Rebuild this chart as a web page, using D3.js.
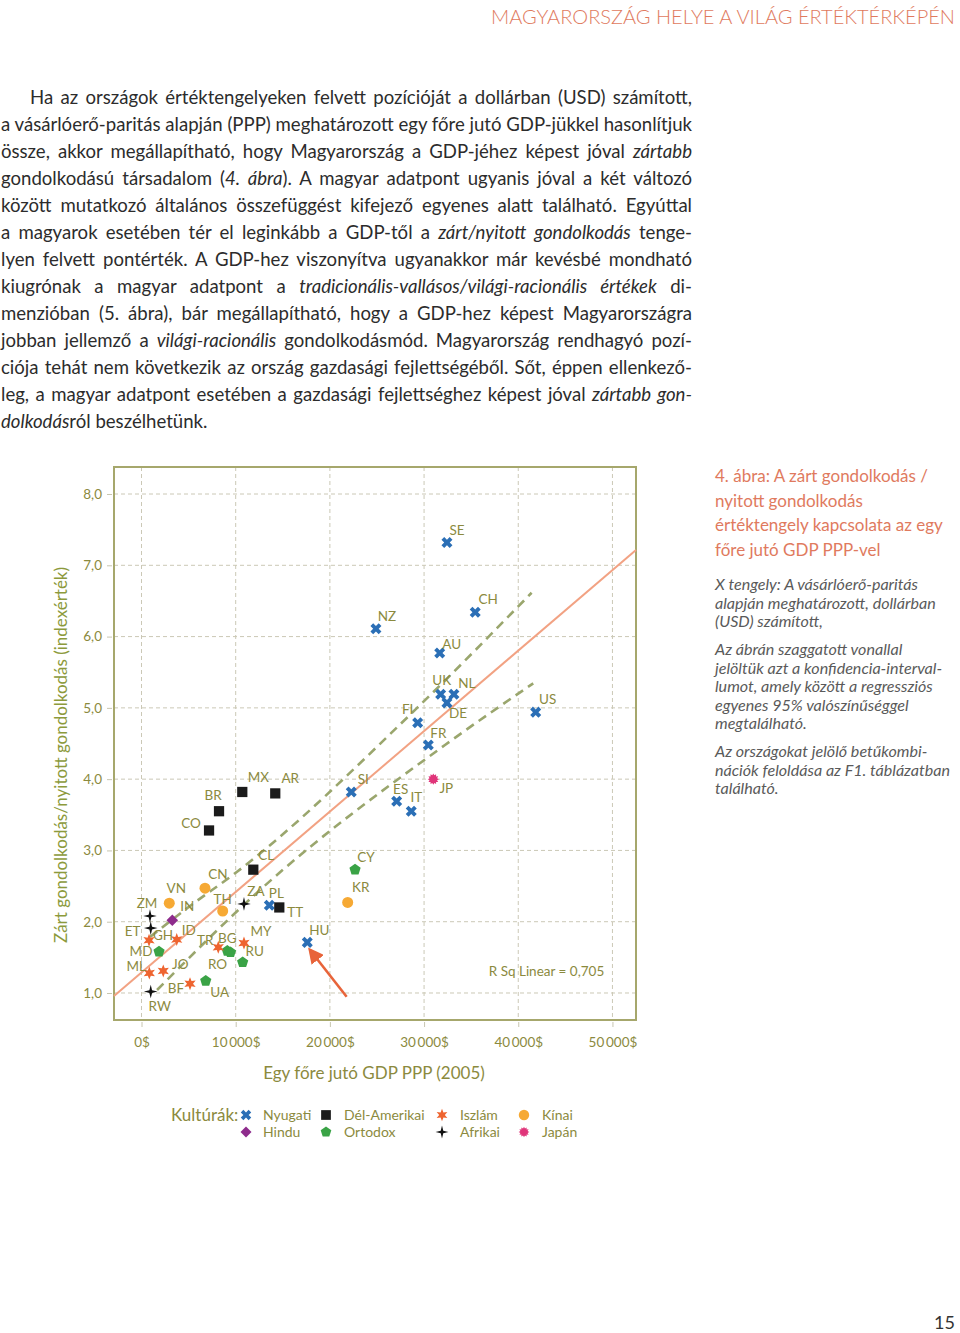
<!DOCTYPE html>
<html><head><meta charset="utf-8">
<script src="https://cdn.jsdelivr.net/npm/d3@7"></script>
<style>html,body{margin:0;padding:0;background:#fff;}svg{display:block;}</style>
</head><body>
<svg id="page" width="960" height="1333"></svg>
<script>
// ---------------- DATA ----------------
const codes = ["SE","CH","NZ","AU","UK","NL","DE","US","FI","FR","ES","IT","SI","PL","HU",
  "MX","AR","BR","CO","CL","TT",
  "CN","VN","KR","TH",
  "CY","BG","RO","RU","MD","UA",
  "TR","MY","ID","GH","ML","JO","BF",
  "ZM","ET","ZA","RW",
  "IN","JP"];
const gdp = [32430,35430,24890,31660,31760,33170,32430,41850,29320,30450,27090,28640,22270,13570,17600,
  10700,14200,8230,7170,11870,14630,
  6740,2950,21890,8620,
  22670,9110,9450,10740,1860,6820,
  8150,10880,3740,800,830,2310,5150,
  900,980,10880,980,
  3270,30980];
const closedThinking = [7.32,6.34,6.11,5.77,5.19,5.19,5.07,4.94,4.79,4.48,3.69,3.55,3.82,2.23,1.71,
  3.82,3.80,3.55,3.28,2.73,2.20,
  2.47,2.26,2.27,2.15,
  2.73,1.59,1.57,1.43,1.58,1.17,
  1.64,1.70,1.75,1.74,1.28,1.31,1.13,
  2.08,1.91,2.25,1.02,
  2.02,4.00];
const culture = ["Nyugati","Nyugati","Nyugati","Nyugati","Nyugati","Nyugati","Nyugati","Nyugati","Nyugati","Nyugati","Nyugati","Nyugati","Nyugati","Nyugati","Nyugati",
  "Dél-Amerikai","Dél-Amerikai","Dél-Amerikai","Dél-Amerikai","Dél-Amerikai","Dél-Amerikai",
  "Kínai","Kínai","Kínai","Kínai",
  "Ortodox","Ortodox","Ortodox","Ortodox","Ortodox","Ortodox",
  "Iszlám","Iszlám","Iszlám","Iszlám","Iszlám","Iszlám","Iszlám",
  "Afrikai","Afrikai","Afrikai","Afrikai",
  "Hindu","Japán"];
const legendRow1 = ["Nyugati","Dél-Amerikai","Iszlám","Kínai"];
const legendRow2 = ["Hindu","Ortodox","Afrikai","Japán"];

// regression line and 95% confidence lines
const fitLineX = [-2920, 52500];
const fitLineY = [0.958, 7.214];
const ciUpperX = [900, 5150, 10110, 29210, 41420];
const ciUpperY = [1.786, 2.220, 2.697, 4.993, 6.615];
const ciLowerX = [1650, 12580, 32220, 41590];
const ciLowerY = [1.042, 2.445, 4.479, 5.344];
const arrowX = [21780, 17890];
const arrowY = [0.948, 1.603];
const rSquareText = "R Sq Linear = 0,705";

const xTicks = [0,10000,20000,30000,40000,50000];
const xTickLabels = ["0$","10\u2009000$","20\u2009000$","30\u2009000$","40\u2009000$","50\u2009000$"];
const yTicks = [1,2,3,4,5,6,7,8];
const yTickLabels = ["1,0","2,0","3,0","4,0","5,0","6,0","7,0","8,0"];

const headerText = "MAGYARORSZÁG HELYE A VILÁG ÉRTÉKTÉRKÉPÉN";
const bodyLines = [
"Ha az országok értéktengelyeken felvett pozícióját a dollárban (USD) számított,",
"a vásárlóerő-paritás alapján (PPP) meghatározott egy főre jutó GDP-jükkel hasonlítjuk",
"össze, akkor megállapítható, hogy Magyarország a GDP-jéhez képest jóval *zártabb*",
"gondolkodású társadalom (*4. ábra*). A magyar adatpont ugyanis jóval a két változó",
"között mutatkozó általános összefüggést kifejező egyenes alatt található. Egyúttal",
"a magyarok esetében tér el leginkább a GDP-től a *zárt/nyitott gondolkodás* tenge-",
"lyen felvett pontérték. A GDP-hez viszonyítva ugyanakkor már kevésbé mondható",
"kiugrónak a magyar adatpont a *tradicionális-vallásos/világi-racionális értékek* di-",
"menzióban (5. ábra), bár megállapítható, hogy a GDP-hez képest Magyarországra",
"jobban jellemző a *világi-racionális* gondolkodásmód. Magyarország rendhagyó pozí-",
"ciója tehát nem következik az ország gazdasági fejlettségéből. Sőt, éppen ellenkező-",
"leg, a magyar adatpont esetében a gazdasági fejlettséghez képest jóval *zártabb gon-*",
"*dolkodás*ról beszélhetünk."
];
const captionTitle = ["4. ábra: A zárt gondolkodás /","nyitott gondolkodás","értéktengely kapcsolata az egy","főre jutó GDP PPP-vel"];
const captionBlocks = [
 ["X tengely: A vásárlóerő-paritás","alapján meghatározott, dollárban","(USD) számított,"],
 ["Az ábrán szaggatott vonallal","jelöltük azt a konfidencia-interval-","lumot, amely között a regressziós","egyenes 95% valószínűséggel","megtalálható."],
 ["Az országokat jelölő betűkombi-","nációk feloldása az F1. táblázatban","található."]
];
const yTitle = "Zárt gondolkodás/nyitott gondolkodás (indexérték)";
const xTitle = "Egy főre jutó GDP PPP (2005)";
const legendTitle = "Kultúrák:";
const pageNumber = "15";

// ---------------- LAYOUT / STYLE ----------------
const FONT = "Lato, 'Open Sans', 'Noto Sans', sans-serif";
const OLIVE = "#8b8a3e";
const labelOffset = {SE:[10,-12],CH:[13,-13],NZ:[11,-13],AU:[12,-9],UK:[1,-14],NL:[13,-11],DE:[11,10],US:[12,-13],
 FI:[-10,-14],FR:[10,-12],JP:[13,9],ES:[4,-12],IT:[5,-14],SI:[12,-13],MX:[16,-15],AR:[15,-15],BR:[-6,-16],
 CO:[-18,-7],CL:[13,-15],CY:[11,-13],CN:[13,-14],VN:[7,-15],KR:[13,-15],ZM:[-3,-13],IN:[15,-14],TH:[0,-12],
 ZA:[12,-13],PL:[7,-12],TT:[16,5],ET:[-18,3],GH:[14,-5],ID:[12,-9],HU:[12,-12],MY:[17,-12],TR:[-13,-7],
 BG:[0,-13],RO:[-13,12],RU:[12,-11],MD:[-18,-1],ML:[-13,-7],JO:[17,-7],BF:[-14,4],UA:[14,11],RW:[9,15]};

function starPath(n, ro, ri, rot){
  const pts=[];
  for(let i=0;i<2*n;i++){
    const a = rot + Math.PI*i/n;
    const r = i%2===0?ro:ri;
    pts.push([r*Math.sin(a), -r*Math.cos(a)]);
  }
  return "M"+pts.map(p=>p[0].toFixed(2)+","+p[1].toFixed(2)).join("L")+"Z";
}
function polygonPath(n, r){
  const p=[];
  for(let i=0;i<n;i++){const a=2*Math.PI*i/n;p.push([r*Math.sin(a),-r*Math.cos(a)]);}
  return "M"+p.map(q=>q[0].toFixed(2)+","+q[1].toFixed(2)).join("L")+"Z";
}
const symbolFor = {
  "Nyugati": {d: d3.symbol(d3.symbolCross, 76)(), rot:45, fill:"#2b6fb6"},
  "Dél-Amerikai": {d: d3.symbol(d3.symbolSquare, 105)(), rot:0, fill:"#1b1b1b"},
  "Iszlám": {d: starPath(6, 6.5, 3.0, 0), rot:0, fill:"#ee6430"},
  "Kínai": {d: d3.symbol(d3.symbolCircle, 95)(), rot:0, fill:"#f6a934"},
  "Hindu": {d: polygonPath(4, 5.8), rot:0, fill:"#8e2b8c"},
  "Ortodox": {d: polygonPath(5, 5.9), rot:0, fill:"#3aa346"},
  "Afrikai": {d: starPath(4, 6.8, 1.9, 0), rot:0, fill:"#111111"},
  "Japán": {d: starPath(12, 5.6, 3.9, 0), rot:0, fill:"#e0357a"}
};

const svg = d3.select("#page");

// ---------------- HEADER ----------------
svg.append("text").attr("x",955).attr("y",24).attr("text-anchor","end")
  .attr("font-family",FONT).attr("font-size",20).attr("font-weight",300)
  .attr("fill","#e07a5e").attr("textLength",464).attr("lengthAdjust","spacingAndGlyphs")
  .text(headerText);

// ---------------- BODY TEXT (justified) ----------------
function fillSegments(t, line){
  const parts = line.split("*");
  parts.forEach((p,i)=>{ if(p.length===0) return;
    t.append("tspan").attr("font-style", i%2===1?"italic":"normal").text(p); });
}
const body = svg.append("g").attr("font-family",FONT).attr("fill","#2c2c2c");
let fs = 19;
const bodyEls = bodyLines.map((line,i)=>{
  const x0 = i===0?30:1;
  const t = body.append("text").attr("x",x0).attr("y",104+i*27).attr("font-size",fs);
  fillSegments(t,line);
  return {t, x0, last: i===bodyLines.length-1, line};
});
let minRatio = Infinity;
bodyEls.forEach(e=>{ if(e.last) return; const w=e.t.node().getComputedTextLength(); minRatio=Math.min(minRatio,(692-e.x0)/w); });
fs = Math.max(15, Math.min(21, fs*minRatio));
bodyEls.forEach(e=>{
  e.t.attr("font-size",fs);
  if(e.last) return;
  const w = e.t.node().getComputedTextLength();
  const spaces = (e.line.match(/ /g)||[]).length;
  if(spaces>0) e.t.attr("word-spacing", ((692-e.x0)-w)/spaces);
});

// ---------------- CAPTION ----------------
const cap = svg.append("g").attr("font-family",FONT);
captionTitle.forEach((l,i)=>cap.append("text").attr("x",715).attr("y",482+i*24.7)
  .attr("font-size",17).attr("fill","#e07a5e").text(l));
const blockStart = [590, 655, 757];
captionBlocks.forEach((blk,b)=>blk.forEach((l,i)=>cap.append("text").attr("x",715)
  .attr("y",blockStart[b]+i*18.6).attr("font-size",16.1).attr("font-style","italic")
  .attr("fill","#5a5a5a").text(l)));

// ---------------- CHART ----------------
const X0=114, X1=636, Y0=467, Y1=1020;
const x = d3.scaleLinear().domain([-2920,52500]).range([X0,X1]);
const y = d3.scaleLinear().domain([0.621,8.379]).range([Y1,Y0]);
const chart = svg.append("g").attr("font-family",FONT);

// grid
chart.append("g").selectAll("line").data(xTicks).join("line")
  .attr("x1",d=>x(d)).attr("x2",d=>x(d)).attr("y1",Y0).attr("y2",Y1)
  .attr("stroke","#cbc8b6").attr("stroke-width",1).attr("stroke-dasharray","4,3");
chart.append("g").selectAll("line").data(yTicks).join("line")
  .attr("y1",d=>y(d)).attr("y2",d=>y(d)).attr("x1",X0).attr("x2",X1)
  .attr("stroke","#cbc8b6").attr("stroke-width",1).attr("stroke-dasharray","4,3");

// axes
const xAxis = chart.append("g").attr("transform",`translate(0,${Y1+2})`)
  .call(d3.axisBottom(x).tickValues(xTicks).tickFormat((d,i)=>xTickLabels[i]).tickSize(5).tickPadding(10));
const yAxis = chart.append("g").attr("transform",`translate(${X0-2},0)`)
  .call(d3.axisLeft(y).tickValues(yTicks).tickFormat((d,i)=>yTickLabels[i]).tickSize(5).tickPadding(5));
[xAxis,yAxis].forEach(a=>{
  a.select(".domain").remove();
  a.selectAll(".tick line").attr("stroke","#c8c6b0");
  a.selectAll(".tick text").attr("fill",OLIVE).attr("font-size",13.5).attr("font-family",FONT);
});

// frame
chart.append("rect").attr("x",X0).attr("y",Y0).attr("width",X1-X0).attr("height",Y1-Y0)
  .attr("fill","none").attr("stroke","#a6a76c").attr("stroke-width",2);

// regression line
chart.append("path").datum(fitLineX.map((v,i)=>[v,fitLineY[i]]))
  .attr("d",d3.line().x(d=>x(d[0])).y(d=>y(d[1])))
  .attr("stroke","#f2a283").attr("stroke-width",2).attr("fill","none");
// confidence lines
const ciLine = d3.line().x(d=>x(d[0])).y(d=>y(d[1])).curve(d3.curveMonotoneX);
[[ciUpperX,ciUpperY],[ciLowerX,ciLowerY]].forEach(([xs,ys])=>{
  chart.append("path").datum(xs.map((v,i)=>[v,ys[i]])).attr("d",ciLine)
    .attr("stroke","#9aa66d").attr("stroke-width",2.6).attr("stroke-dasharray","9,6").attr("fill","none");
});

// points
const pts = codes.map((c,i)=>({code:c,gdp:gdp[i],val:closedThinking[i],cult:culture[i]}));
chart.append("g").selectAll("path").data(pts).join("path")
  .attr("d",d=>symbolFor[d.cult].d)
  .attr("transform",d=>`translate(${x(d.gdp)},${y(d.val)}) rotate(${symbolFor[d.cult].rot})`)
  .attr("fill",d=>symbolFor[d.cult].fill);
// labels
chart.append("g").selectAll("text").data(pts).join("text")
  .attr("x",d=>x(d.gdp)+labelOffset[d.code][0]).attr("y",d=>y(d.val)+labelOffset[d.code][1])
  .attr("dy","0.36em").attr("text-anchor","middle").attr("font-size",13.5).attr("fill",OLIVE)
  .text(d=>d.code);

// arrow
const defs = svg.append("defs");
defs.append("marker").attr("id","ah").attr("viewBox","0 0 10 10").attr("refX",8).attr("refY",5)
  .attr("markerWidth",6).attr("markerHeight",6).attr("markerUnits","strokeWidth").attr("orient","auto")
  .append("path").attr("d","M0,0L10,5L0,10Z").attr("fill","#e8643a");
chart.append("line").attr("x1",x(arrowX[0])).attr("y1",y(arrowY[0]))
  .attr("x2",x(arrowX[1])).attr("y2",y(arrowY[1]))
  .attr("stroke","#e8643a").attr("stroke-width",2.6).attr("marker-end","url(#ah)");

// R square
chart.append("text").attr("x",546.5).attr("y",975.5).attr("text-anchor","middle")
  .attr("font-size",13.5).attr("fill",OLIVE).text(rSquareText);

// axis titles
chart.append("text").attr("transform","translate(67,755) rotate(-90)").attr("text-anchor","middle")
  .attr("font-size",17.5).attr("fill","#8c9a3c").attr("textLength",376).attr("lengthAdjust","spacingAndGlyphs").text(yTitle);
chart.append("text").attr("x",374).attr("y",1079).attr("text-anchor","middle")
  .attr("font-size",17).attr("fill",OLIVE).text(xTitle);

// legend
const lg = svg.append("g").attr("font-family",FONT);
lg.append("text").attr("x",171).attr("y",1121).attr("font-size",17).attr("fill",OLIVE).text(legendTitle);
const mx=[246,326,442,524], tx=[263,344,460,542];
[[legendRow1,1115],[legendRow2,1132]].forEach(([row,yy])=>{
  row.forEach((name,i)=>{
    const s=symbolFor[name];
    lg.append("path").attr("d",s.d).attr("transform",`translate(${mx[i]},${yy}) rotate(${s.rot}) scale(0.95)`).attr("fill",s.fill);
    lg.append("text").attr("x",tx[i]).attr("y",yy+5).attr("font-size",14).attr("fill",OLIVE).text(name);
  });
});

// page number
svg.append("text").attr("x",955).attr("y",1329).attr("text-anchor","end").attr("font-family",FONT)
  .attr("font-size",18).attr("fill","#333").text(pageNumber);
</script>
</body></html>
